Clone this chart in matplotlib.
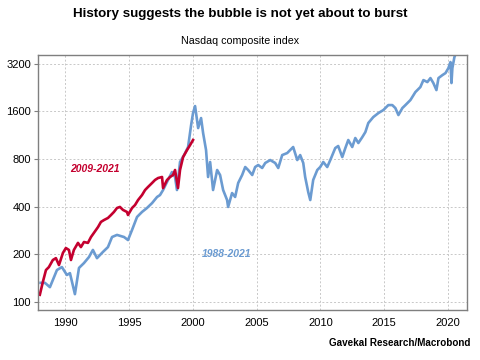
import matplotlib
matplotlib.use("Agg")
import matplotlib.pyplot as plt
from matplotlib.ticker import FixedLocator, NullLocator

plt.rcParams['font.family'] = ['Liberation Sans', 'DejaVu Sans']

# Nasdaq composite index, 1988-2021 (rebased)
blue_years = [1988.07, 1988.41, 1988.80, 1989.35, 1989.74, 1990.13, 1990.37, 1990.76,
              1991.08, 1991.47, 1991.86, 1992.17, 1992.49, 1992.96, 1993.35, 1993.67,
              1994.06, 1994.61, 1994.92, 1995.24, 1995.63, 1996.02, 1996.41, 1996.81,
              1997.20, 1997.43, 1997.67, 1997.98, 1998.37, 1998.61, 1998.76, 1999.00,
              1999.32, 1999.63, 1999.87, 2000.02, 2000.18, 2000.42, 2000.65, 2000.81,
              2001.04, 2001.20, 2001.36, 2001.59, 2001.91, 2002.14, 2002.38, 2002.69,
              2002.77, 2003.08, 2003.32, 2003.56, 2003.87, 2004.11, 2004.34, 2004.66,
              2004.89, 2005.13, 2005.44, 2005.68, 2006.07, 2006.46, 2006.70, 2007.01,
              2007.40, 2007.87, 2008.19, 2008.42, 2008.66, 2008.81, 2008.97, 2009.05,
              2009.21, 2009.44, 2009.76, 2009.99, 2010.23, 2010.54, 2010.78, 2011.17,
              2011.40, 2011.72, 2011.96, 2012.19, 2012.50, 2012.74, 2012.98, 2013.29,
              2013.53, 2013.76, 2014.15, 2014.55, 2014.94, 2015.33, 2015.64, 2015.88,
              2016.12, 2016.43, 2016.67, 2017.06, 2017.45, 2017.84, 2018.08, 2018.39,
              2018.63, 2018.86, 2019.10, 2019.26, 2019.57, 2019.81, 2020.04, 2020.20,
              2020.28, 2020.35, 2020.51, 2020.67]
blue_values = [132, 132, 124, 159, 166, 148, 152, 112,
               164, 176, 192, 213, 189, 207, 222, 257,
               265, 257, 246, 285, 344, 370, 392, 421,
               460, 473, 509, 572, 661, 615, 509, 765,
               846, 951, 1309, 1558, 1725, 1253, 1449, 1165,
               910, 615, 765, 509, 681, 633, 509, 440,
               398, 487, 460, 564, 633, 711, 681, 633,
               711, 732, 701, 754, 787, 754, 701, 846,
               871, 951, 787, 846, 754, 615, 532, 494,
               440, 589, 681, 711, 765, 711, 787, 937,
               965, 822, 937, 1053, 951, 1084, 1008, 1099,
               1182, 1348, 1470, 1558, 1628, 1750, 1750, 1676,
               1514, 1676, 1750, 1882, 2114, 2273, 2517, 2445,
               2591, 2410, 2177, 2591, 2706, 2786, 2996, 3270,
               2410, 2996, 3516, 3780]

# Nasdaq 2009-2021 shifted to start in 1988
red_years = [1988.01, 1988.25, 1988.49, 1988.72, 1989.03, 1989.27, 1989.51, 1989.82,
             1990.05, 1990.29, 1990.45, 1990.68, 1991.00, 1991.23, 1991.47, 1991.78,
             1992.02, 1992.25, 1992.57, 1992.80, 1993.04, 1993.35, 1993.59, 1993.82,
             1994.06, 1994.29, 1994.53, 1994.84, 1994.92, 1995.24, 1995.47, 1995.71,
             1996.02, 1996.26, 1996.49, 1996.81, 1997.04, 1997.28, 1997.59, 1997.67,
             1997.98, 1998.22, 1998.45, 1998.61, 1998.84, 1999.00, 1999.24, 1999.55,
             1999.79, 2000.02]
red_values = [111, 134, 159, 166, 184, 189, 171, 204,
              219, 213, 184, 213, 236, 222, 239, 236,
              257, 273, 297, 320, 329, 339, 354, 370,
              392, 398, 381, 370, 354, 392, 409, 440,
              473, 509, 532, 564, 589, 606, 615, 524,
              589, 615, 633, 681, 524, 681, 822, 910,
              979, 1053]

y_ticks = [100, 200, 400, 800, 1600, 3200]
x_ticks = [1990, 1995, 2000, 2005, 2010, 2015, 2020]

blue_c = '#6b9bd1'
red_c = '#c4002f'

fig = plt.figure(figsize=(4.8, 3.6), dpi=100)
ax = fig.add_axes([0.079, 0.139, 0.894, 0.708])

ax.plot(blue_years, blue_values, color=blue_c, lw=1.9, solid_joinstyle='round')
ax.plot(red_years, red_values, color=red_c, lw=1.9, solid_joinstyle='round')

ax.set_yscale('log', base=2)
ax.set_ylim(89, 3620)
ax.set_xlim(1987.86, 2021.5)
ax.yaxis.set_major_locator(FixedLocator(y_ticks))
ax.yaxis.set_minor_locator(NullLocator())
ax.set_yticklabels([str(v) for v in y_ticks])
ax.xaxis.set_major_locator(FixedLocator(x_ticks))
ax.set_xticklabels([str(v) for v in x_ticks])

ax.grid(True, color='#c8c8c8', linestyle=(0, (2, 2)), linewidth=0.7)
ax.set_axisbelow(True)
for s in ax.spines.values():
    s.set_color('#7f7f7f')
    s.set_linewidth(1.0)
ax.tick_params(axis='y', length=3, width=0.8, color='#7f7f7f', labelsize=8, pad=2)
ax.tick_params(axis='x', length=0, labelsize=8, pad=6)

ax.text(1990.35, 690, '2009-2021', color=red_c, fontsize=7.5, fontweight='bold',
        style='italic', va='center', ha='left')
ax.text(2000.7, 200, '1988-2021', color=blue_c, fontsize=7.5, fontweight='bold',
        style='italic', va='center', ha='left')

fig.text(0.5, 0.961, 'History suggests the bubble is not yet about to burst',
         ha='center', va='center', fontsize=9.6, fontweight='bold')
fig.text(0.5, 0.886, 'Nasdaq composite index', ha='center', va='center', fontsize=7.7)
fig.text(0.979, 0.047, 'Gavekal Research/Macrobond', ha='right', va='center',
         fontsize=7.1, fontweight='bold')

fig.savefig('out.png', dpi=100)
